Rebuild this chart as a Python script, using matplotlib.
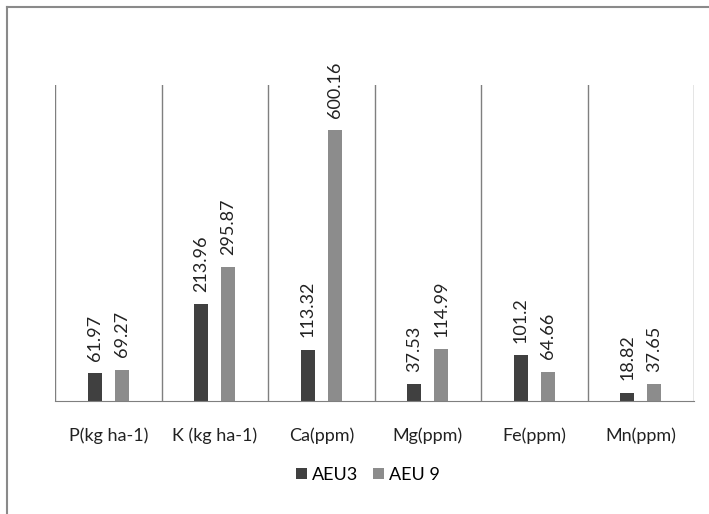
import numpy as np
import matplotlib.pyplot as plt
from matplotlib.lines import Line2D

categories = ["P(kg ha-1)", "K (kg ha-1)", "Ca(ppm)", "Mg(ppm)", "Fe(ppm)", "Mn(ppm)"]
aeu3 = [61.97, 213.96, 113.32, 37.53, 101.2, 18.82]
aeu9 = [69.27, 295.87, 600.16, 114.99, 64.66, 37.65]
aeu3_labels = ["61.97", "213.96", "113.32", "37.53", "101.2", "18.82"]
aeu9_labels = ["69.27", "295.87", "600.16", "114.99", "64.66", "37.65"]

plt.rcParams["font.family"] = ["Lato", "DejaVu Sans"]

fig = plt.figure(figsize=(7.09, 5.14), dpi=100)
ax = fig.add_axes([0.0776, 0.2198, 0.9013, 0.6148])

x = np.arange(len(categories))
w = 0.13
off = 0.127
b1 = ax.bar(x - off, aeu3, width=w, color="#404040", label="AEU3")
b2 = ax.bar(x + off, aeu9, width=w, color="#8c8c8c", label="AEU 9")

for bars, labels in [(b1, aeu3_labels), (b2, aeu9_labels)]:
    for bar, lab in zip(bars, labels):
        ax.annotate(lab, (bar.get_x() + bar.get_width() / 2, bar.get_height()),
                    xytext=(0, 9), textcoords="offset points", rotation=90,
                    ha="center", va="bottom", fontsize=13, color="#222222")

# separators between categories
for b in np.arange(-0.5, len(categories), 1.0):
    ax.axvline(b, color="#7f7f7f", linewidth=1.0)

ax.set_xlim(-0.5, len(categories) - 0.5)
ax.set_ylim(0, 700)
ax.set_yticks([])
ax.set_xticks(x)
ax.set_xticklabels(categories, fontsize=13, color="#222222")
ax.tick_params(axis="x", length=0, pad=19)
for s in ["top", "left", "right"]:
    ax.spines[s].set_visible(False)
ax.spines["bottom"].set_color("#7f7f7f")

fig.legend(handles=[b1, b2], loc="center", bbox_to_anchor=(368 / 709, 1 - 475 / 514),
           ncol=2, frameon=False, fontsize=13, handlelength=0.6, handleheight=0.6,
           handletextpad=0.3, columnspacing=0.8)

# outer border (only left and top edges show in the reference)
bx, by = 6.5 / 709, 1 - 6.5 / 514
fig.add_artist(Line2D([bx, bx], [0, by], transform=fig.transFigure, color="#8a8a8a", linewidth=1.5))
fig.add_artist(Line2D([bx, 1], [by, by], transform=fig.transFigure, color="#8a8a8a", linewidth=1.5))

fig.savefig("out.png", dpi=100)
